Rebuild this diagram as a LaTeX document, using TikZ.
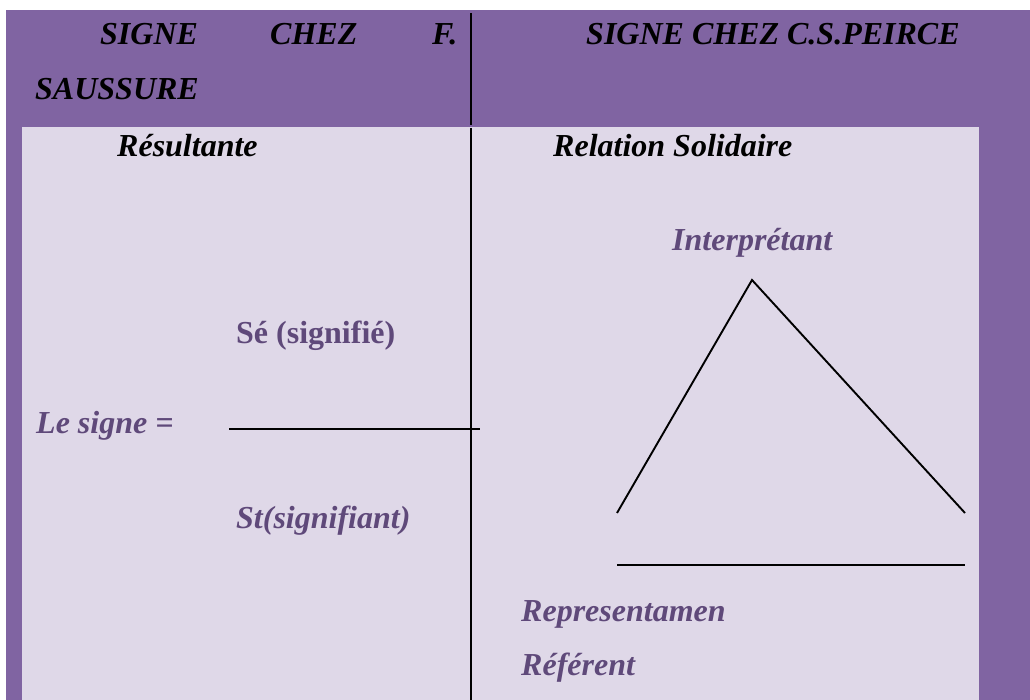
\documentclass[tikz,border=0pt]{standalone}
\usepackage{fontspec}
\setmainfont{Liberation Serif}
\definecolor{hdr}{HTML}{8064A2}
\definecolor{cell}{HTML}{DFD8E8}
\definecolor{txt}{HTML}{5F497A}
\begin{document}
\begin{tikzpicture}[x=1pt,y=-1pt,
  lbl/.style={anchor=base west,inner sep=0pt,font=\fontsize{32}{38}\selectfont\bfseries\itshape},
  plbl/.style={lbl,text=txt},
  rule/.style={line width=2.3pt,black},
  tri/.style={line width=1.9pt,black}]
\useasboundingbox (0,0) rectangle (1030,700);
\fill[white] (0,0) rectangle (1030,700);
% backgrounds
\fill[hdr] (6,10) rectangle (1030,700);
\fill[cell] (22,127) rectangle (979,700);
% column separator
\coordinate (vt) at (471,13);
\coordinate (vm) at (471,125);
\coordinate (vb0) at (471,128);
\coordinate (vb) at (471,700);
\draw[rule] (vt) -- (vm);
\draw[rule] (vb0) -- (vb);
% headers
\node[lbl] (h1) at (100,45) {SIGNE};
\node[lbl] (h2) at (270,45) {CHEZ};
\node[lbl] (h3) at (432,45) {F.};
\node[lbl] (h4) at (35,100) {SAUSSURE};
\node[lbl] (h5) at (586,45) {SIGNE CHEZ C.S.PEIRCE};
\node[lbl] (res) at (117,157) {Résultante};
\node[lbl] (rel) at (553,157) {Relation Solidaire};
% Saussure
\node[plbl,font=\fontsize{32}{38}\selectfont\bfseries] (se) at (236,343) {Sé (signifié)};
\node[plbl] (le) at (36,433) {Le signe =};
\node[plbl] (st) at (236,528) {St(signifiant)};
\coordinate (fa) at (229,429);
\coordinate (fb) at (480,429);
\draw[rule] (fa) -- (fb);
% Peirce
\node[plbl] (int) at (672,251) {Interprétant};
\coordinate (ta) at (752,280);
\coordinate (tl) at (617,513);
\coordinate (tr) at (965,513);
\draw[tri] (tl) -- (ta) -- (tr);
\coordinate (ba) at (617,565);
\coordinate (bb) at (965,565);
\draw[rule] (ba) -- (bb);
\node[plbl] (rep) at (521,621) {Representamen};
\node[plbl] (ref) at (521,675) {Référent};
\end{tikzpicture}
\end{document}
